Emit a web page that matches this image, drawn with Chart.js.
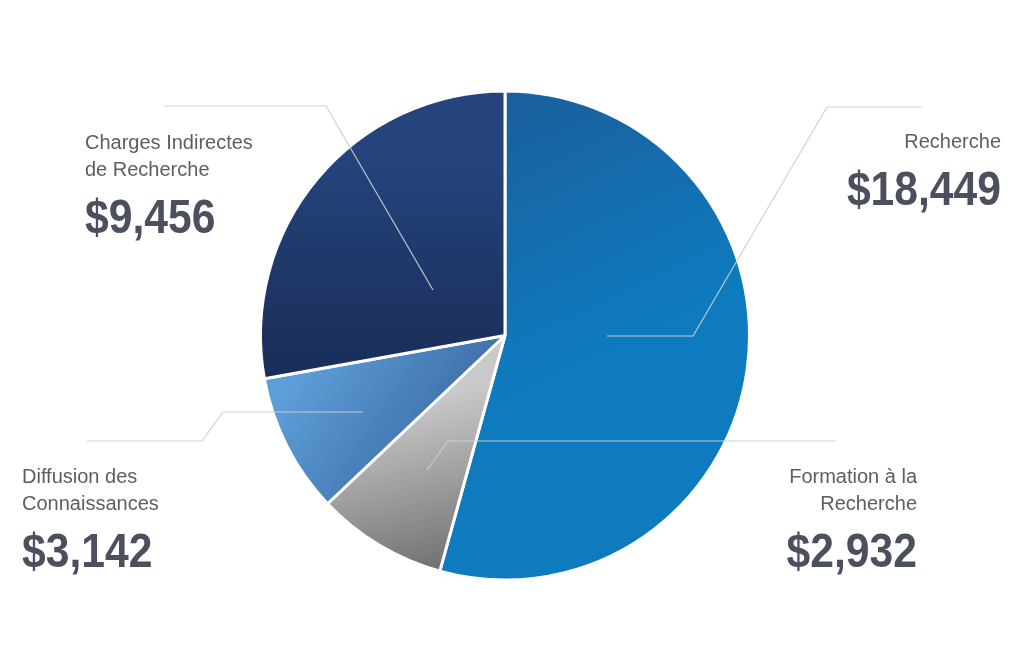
<!DOCTYPE html>
<html lang="fr">
<head>
<meta charset="utf-8">
<title>Répartition des dépenses</title>
<script src="https://cdn.jsdelivr.net/npm/chart.js@4.4.1/dist/chart.umd.min.js"></script>
<style>
    html, body { margin: 0; padding: 0; background: #ffffff; }
    #wrap { position: relative; width: 1024px; height: 670px; }
</style>
</head>
<body>
<div id="wrap"><canvas id="chart-depenses"></canvas></div>
<script>
// Données du graphique
const categories = ['Recherche', 'Formation à la Recherche', 'Diffusion des Connaissances', 'Charges Indirectes de Recherche'];
const montants = [18449, 2932, 3142, 9456];

// Lignes des étiquettes (texte affiché)
const etiquettes = [
    ['Recherche'],
    ['Formation à la', 'Recherche'],
    ['Diffusion des', 'Connaissances'],
    ['Charges Indirectes', 'de Recherche']
];

// Dégradés : [couleur début, couleur fin, direction relative au rayon]
const degrades = [
    { from: '#1b5e9b', to: '#0e7bbf', p0: [-0.05, -1.0], p1: [0.45, 0.05] },
    { from: '#c9c9c9', to: '#676767', p0: [-0.30, 0.25], p1: [-0.12, 1.0] },
    { from: '#5d9dd8', to: '#3b6aa2', p0: [-0.90, 0.25], p1: [-0.30, 0.65] },
    { from: '#25447d', to: '#192b55', p0: [0, -0.75], p1: [0, 0.25] }
];

// Position des étiquettes et des traits de rappel (mise en page)
const placement = [
    { x: 1001, y: 148, align: 'right', trait: [[922, 107], [827, 107], [693, 336], [607, 336]] },
    { x: 917, y: 483, align: 'right', trait: [[836, 441], [448, 441], [427, 470]] },
    { x: 22, y: 483, align: 'left', trait: [[87, 441], [202, 441], [223, 412], [363, 412]] },
    { x: 85, y: 149, align: 'left', trait: [[164, 106], [326, 106], [433, 290]] }
];

function formatMontant(v) {
    return '$' + v.toLocaleString('en-US');
}

/**
 * Couleur de fond en dégradé pour chaque part
 */
function couleurPart(ctx) {
    const chart = ctx.chart;
    const area = chart.chartArea;
    const d = degrades[ctx.dataIndex];
    if (!area) return d.to;
    const cx = (area.left + area.right) / 2;
    const cy = (area.top + area.bottom) / 2;
    const r = Math.min(area.right - area.left, area.bottom - area.top) / 2;
    const g = chart.ctx.createLinearGradient(
        cx + d.p0[0] * r, cy + d.p0[1] * r,
        cx + d.p1[0] * r, cy + d.p1[1] * r
    );
    g.addColorStop(0, d.from);
    g.addColorStop(1, d.to);
    return g;
}

// Plugin : étiquettes et traits de rappel
const pluginEtiquettes = {
    id: 'etiquettes',
    afterDraw(chart) {
        const ctx = chart.ctx;
        const serre = 0.87; // compression horizontale des montants
        ctx.save();
        // Traits de rappel
        ctx.strokeStyle = 'rgba(205, 205, 205, 0.95)';
        ctx.lineWidth = 1.2;
        placement.forEach(p => {
            ctx.beginPath();
            p.trait.forEach((pt, i) => {
                if (i === 0) ctx.moveTo(pt[0], pt[1]);
                else ctx.lineTo(pt[0], pt[1]);
            });
            ctx.stroke();
        });
        // Textes
        placement.forEach((p, i) => {
            ctx.textAlign = p.align;
            ctx.textBaseline = 'alphabetic';
            ctx.fillStyle = '#5b5e64';
            ctx.font = '20px "Liberation Sans", Arial, sans-serif';
            let y = p.y;
            etiquettes[i].forEach((ligne, k) => {
                ctx.fillText(ligne, p.x, y);
                if (k < etiquettes[i].length - 1) y += 27;
            });
            ctx.fillStyle = '#4b505e';
            ctx.font = 'bold 49px "Liberation Sans", Arial, sans-serif';
            ctx.save();
            ctx.translate(p.x, y + 57);
            ctx.scale(serre, 1);
            ctx.fillText(formatMontant(montants[i]), 0, 0);
            ctx.restore();
        });
        ctx.restore();
    }
};

const ctxDepenses = document.getElementById('chart-depenses');
const chartDepenses = new Chart(ctxDepenses, {
    type: 'pie',
    data: {
        labels: categories,
        datasets: [{
            label: 'Montants',
            data: montants,
            backgroundColor: couleurPart,
            borderColor: '#ffffff',
            borderWidth: 3,
            hoverBorderWidth: 3,
            hoverOffset: 0
        }]
    },
    options: {
        responsive: true,
        maintainAspectRatio: false,
        animation: false,
        events: [],
        layout: {
            padding: { left: 259, right: 273, top: 89.5, bottom: 88.5 }
        },
        plugins: {
            legend: { display: false },
            tooltip: { enabled: false },
            title: { display: false }
        }
    },
    plugins: [pluginEtiquettes]
});
</script>
</body>
</html>
